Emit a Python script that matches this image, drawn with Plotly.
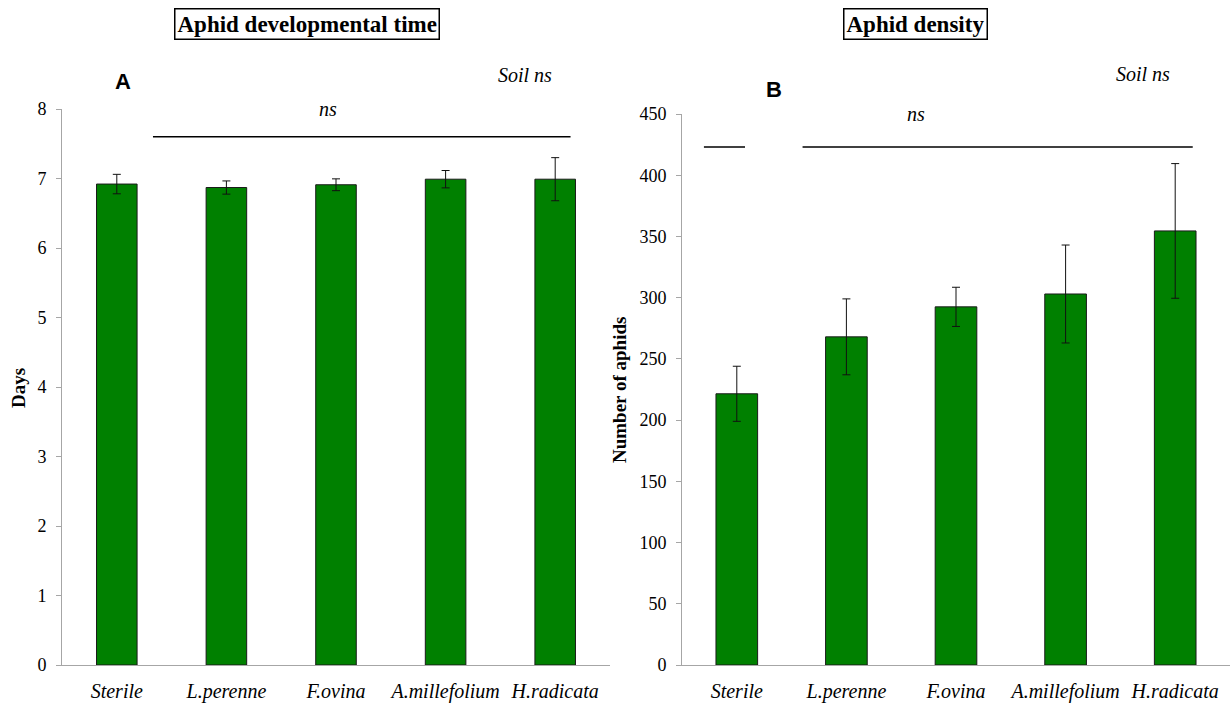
import plotly.graph_objects as go

categories = ["Sterile", "L.perenne", "F.ovina", "A.millefolium", "H.radicata"]
dev_time = [6.92, 6.87, 6.91, 6.99, 6.99]
dev_time_err = [0.14, 0.095, 0.085, 0.125, 0.31]
density = [221.5, 268, 292.5, 303, 354.5]
density_err = [22.5, 31, 16, 40, 55]

W, H = 1231, 704
GREEN = "#008000"
AXC = "#a6a6a6"
SERIF = "Liberation Serif"

def px_x(p):
    return p / W

def px_y(p):
    return 1 - p / H

fig = go.Figure()
fig.add_trace(go.Bar(
    x=categories, y=dev_time, xaxis="x", yaxis="y",
    marker=dict(color=GREEN, line=dict(color="#1a1a1a", width=1)),
    width=0.37,
    error_y=dict(type="data", array=dev_time_err, color="#111", thickness=1, width=4),
    showlegend=False,
))
fig.add_trace(go.Bar(
    x=categories, y=density, xaxis="x2", yaxis="y2",
    marker=dict(color=GREEN, line=dict(color="#1a1a1a", width=1)),
    width=0.38,
    error_y=dict(type="data", array=density_err, color="#111", thickness=1, width=4),
    showlegend=False,
))

xcommon = dict(showline=True, linecolor=AXC, linewidth=1, ticks="", showgrid=False,
               tickfont=dict(family=SERIF, size=20, color="#000", style="italic"),
               ticklabelstandoff=8, range=[-0.5, 4.5], fixedrange=True, automargin=False)
ycommon = dict(showline=True, linecolor=AXC, linewidth=1, ticks="outside", ticklen=5,
               tickcolor=AXC, showgrid=False, zeroline=False, automargin=False,
               tickfont=dict(family=SERIF, size=18, color="#000"), ticklabelstandoff=6)

fig.update_layout(
    width=W, height=H, margin=dict(l=0, r=0, t=0, b=0, autoexpand=False),
    font=dict(family=SERIF, color="#000"),
    paper_bgcolor="white", plot_bgcolor="white",
    xaxis=dict(domain=[px_x(62), px_x(610)], anchor="y", **xcommon),
    yaxis=dict(domain=[px_y(665), px_y(109)], anchor="x", range=[0, 8], dtick=1, **ycommon),
    xaxis2=dict(domain=[px_x(682), px_x(1230)], anchor="y2", **xcommon),
    yaxis2=dict(domain=[px_y(665), px_y(114)], anchor="x2", range=[0, 450], dtick=50, **ycommon),
)

# significance lines
fig.add_shape(type="line", xref="x", yref="y", x0=0.33, x1=4.14, y0=7.6, y1=7.6,
              line=dict(color="#000", width=1.5))
fig.add_shape(type="line", xref="x2", yref="y2", x0=-0.3, x1=0.075, y0=423, y1=423,
              line=dict(color="#000", width=1.5))
fig.add_shape(type="line", xref="x2", yref="y2", x0=0.6, x1=4.16, y0=423, y1=423,
              line=dict(color="#000", width=1.5))

ann = []
def add_text(text, x, y, size, family=SERIF, italic=False, box=False, angle=0):
    d = dict(text=text, x=px_x(x), y=px_y(y), xref="paper", yref="paper",
             xanchor="center", yanchor="middle", showarrow=False, textangle=angle,
             font=dict(family=family, size=size, color="#000", style="italic" if italic else "normal"))
    if box:
        d.update(bordercolor="#000", borderwidth=1.5, borderpad=2, bgcolor="white")
    ann.append(d)

add_text("<b>Aphid developmental time</b>", 307, 24, 23, box=True)
add_text("<b>Aphid density</b>", 915, 24, 23, box=True)
add_text("<b>A</b>", 123, 82, 22, family="Liberation Sans")
add_text("<b>B</b>", 774, 89, 22, family="Liberation Sans")
add_text("Soil ns", 525, 75, 20, italic=True)
add_text("Soil ns", 1143, 74, 20, italic=True)
add_text("ns", 328, 109, 20, italic=True)
add_text("ns", 916, 114, 20, italic=True)
add_text("<b>Days</b>", 18, 388, 19, angle=-90)
add_text("<b>Number of aphids</b>", 619, 390, 19, angle=-90)
fig.update_layout(annotations=ann)

fig.write_html("out.html")
